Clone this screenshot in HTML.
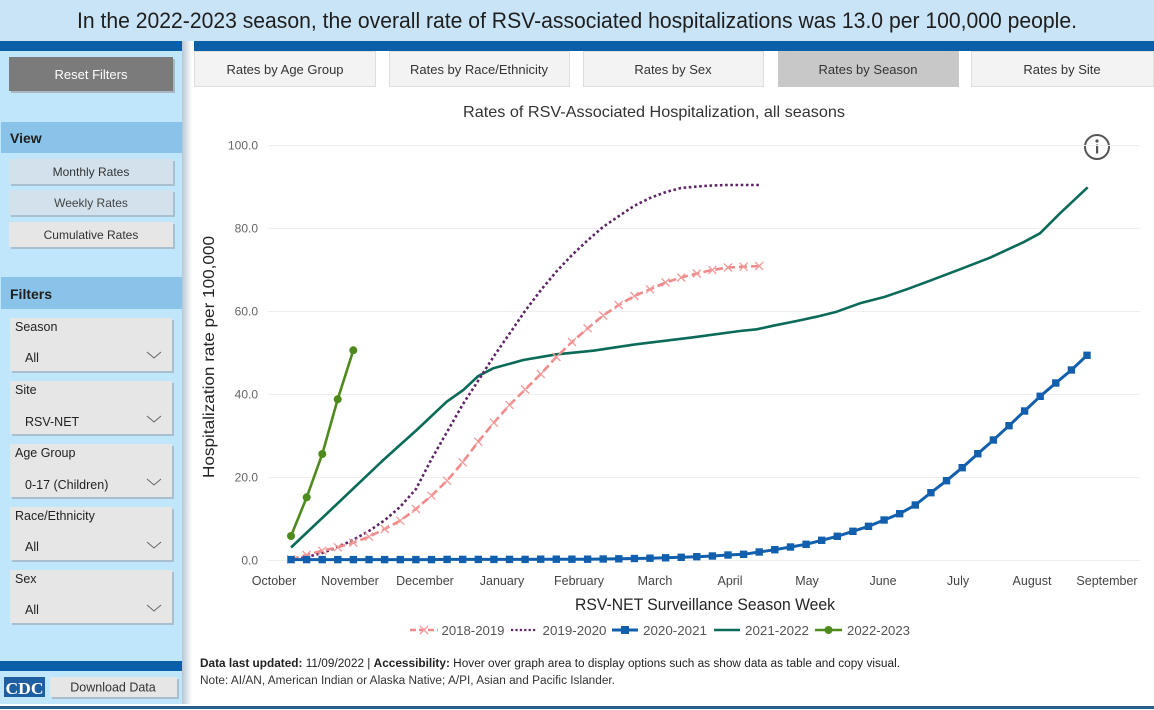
<!DOCTYPE html>
<html><head><meta charset="utf-8"><style>
html,body{margin:0;padding:0;background:#fff;}
svg{display:block;font-family:"Liberation Sans",sans-serif;}
</style></head><body>
<svg width="1154" height="710" viewBox="0 0 1154 710" xmlns="http://www.w3.org/2000/svg">
<defs>
<linearGradient id="sh" x1="0" x2="1" y1="0" y2="0"><stop offset="0" stop-color="#b9c6d1"/><stop offset="1" stop-color="#ffffff"/></linearGradient>
</defs>
<rect width="1154" height="710" fill="#fff"/>
<!-- header -->
<rect x="0" y="0" width="1154" height="41" fill="#c9e4f6"/>
<text x="577" y="28" font-size="22" fill="#1e1e1e" text-anchor="middle" textLength="1000" lengthAdjust="spacingAndGlyphs">In the 2022-2023 season, the overall rate of RSV-associated hospitalizations was 13.0 per 100,000 people.</text>
<!-- left panel -->
<rect x="0" y="41" width="182" height="663" fill="#c0e6fb"/>
<rect x="182" y="41" width="10" height="663" fill="url(#sh)"/>
<rect x="0" y="41" width="182" height="10" fill="#0b5ea8"/>
<rect x="194" y="41" width="960" height="10" fill="#0b5ea8"/>
<!-- reset -->
<rect x="11" y="59" width="164" height="34" fill="#a9b6c0"/>
<rect x="9" y="57" width="164" height="34" fill="#7b7b7b"/>
<text x="91" y="79" font-size="13" fill="#fff" text-anchor="middle">Reset Filters</text>
<!-- view -->
<rect x="1" y="122" width="181" height="31" fill="#89c3e9"/>
<text x="10" y="143" font-size="14" font-weight="bold" fill="#1e1e1e">View</text>
<rect x="11" y="161" width="164" height="25" fill="#a9bfcf"/>
<rect x="9" y="159" width="164" height="25" fill="#d2e1eb"/>
<text x="91" y="176" font-size="12" fill="#333" text-anchor="middle">Monthly Rates</text>
<rect x="11" y="192" width="164" height="25" fill="#a9bfcf"/>
<rect x="9" y="190" width="164" height="25" fill="#d2e1eb"/>
<text x="91" y="207" font-size="12" fill="#444" text-anchor="middle">Weekly Rates</text>
<rect x="11" y="224" width="164" height="25" fill="#a9bfcf"/>
<rect x="9" y="222" width="164" height="25" fill="#e6e6e6"/>
<text x="91" y="239" font-size="12" fill="#333" text-anchor="middle">Cumulative Rates</text>
<!-- filters -->
<rect x="1" y="277" width="181" height="32" fill="#89c3e9"/>
<text x="10" y="299" font-size="14" font-weight="bold" fill="#1e1e1e">Filters</text>
<g font-size="12.5" fill="#222">
<rect x="12" y="320" width="162" height="53" fill="#a9bfcf"/>
<rect x="10" y="318" width="162" height="53" fill="#e6e6e6"/>
<text x="15" y="331">Season</text><text x="25" y="362">All</text>
<polyline points="147,352 154,358 161,352" fill="none" stroke="#666" stroke-width="1"/>
<rect x="12" y="383" width="162" height="53" fill="#a9bfcf"/>
<rect x="10" y="381" width="162" height="53" fill="#e6e6e6"/>
<text x="15" y="394">Site</text><text x="25" y="426">RSV-NET</text>
<polyline points="147,416 154,422 161,416" fill="none" stroke="#666" stroke-width="1"/>
<rect x="12" y="446" width="162" height="53" fill="#a9bfcf"/>
<rect x="10" y="444" width="162" height="53" fill="#e6e6e6"/>
<text x="15" y="457">Age Group</text><text x="25" y="489">0-17 (Children)</text>
<polyline points="147,479 154,485 161,479" fill="none" stroke="#666" stroke-width="1"/>
<rect x="12" y="509" width="162" height="53" fill="#a9bfcf"/>
<rect x="10" y="507" width="162" height="53" fill="#e6e6e6"/>
<text x="15" y="520">Race/Ethnicity</text><text x="25" y="551">All</text>
<polyline points="147,542 154,548 161,542" fill="none" stroke="#666" stroke-width="1"/>
<rect x="12" y="572" width="162" height="53" fill="#a9bfcf"/>
<rect x="10" y="570" width="162" height="53" fill="#e6e6e6"/>
<text x="15" y="583">Sex</text><text x="25" y="614">All</text>
<polyline points="147,605 154,611 161,605" fill="none" stroke="#666" stroke-width="1"/>
</g>
<rect x="0" y="661" width="182" height="10" fill="#0b5ea8"/>
<rect x="4" y="677" width="41" height="20" fill="#1d5fa0"/>
<text x="24.5" y="694" font-size="17" font-weight="bold" font-family="Liberation Serif,serif" fill="#fff" text-anchor="middle" textLength="38" lengthAdjust="spacingAndGlyphs">CDC</text>
<rect x="52" y="679" width="127" height="20" fill="#a9bfcf"/>
<rect x="50" y="677" width="127" height="20" fill="#e6e6e6"/>
<text x="113" y="691.5" font-size="12.5" fill="#333" text-anchor="middle">Download Data</text>
<rect x="0" y="706" width="1154" height="3" fill="#2d5f8e"/>
<!-- tabs -->
<g font-size="13" fill="#333" text-anchor="middle">
<rect x="194.5" y="51.5" width="181" height="35" fill="#f3f3f3" stroke="#dedede"/>
<text x="285" y="74">Rates by Age Group</text>
<rect x="389.5" y="51.5" width="180" height="35" fill="#f3f3f3" stroke="#dedede"/>
<text x="479" y="74">Rates by Race/Ethnicity</text>
<rect x="583.5" y="51.5" width="180" height="35" fill="#f3f3f3" stroke="#dedede"/>
<text x="673" y="74">Rates by Sex</text>
<rect x="778" y="51" width="181" height="36" fill="#c8c8c8"/>
<text x="868" y="74">Rates by Season</text>
<rect x="971.5" y="51.5" width="182" height="35" fill="#f3f3f3" stroke="#dedede"/>
<text x="1062" y="74">Rates by Site</text>
</g>
<!-- chart title -->
<text x="654" y="117" font-size="16" fill="#333" text-anchor="middle" textLength="382" lengthAdjust="spacingAndGlyphs">Rates of RSV-Associated Hospitalization, all seasons</text>
<!-- info icon -->
<circle cx="1097" cy="147" r="12" fill="none" stroke="#555" stroke-width="2"/>
<circle cx="1097" cy="141" r="1.6" fill="#555"/>
<rect x="1096" y="144.5" width="2.2" height="9" fill="#555"/>
<!-- grid -->
<g stroke="#efefef" stroke-width="1">
<line x1="268" x2="1140" y1="145.5" y2="145.5"/>
<line x1="268" x2="1140" y1="228.5" y2="228.5"/>
<line x1="268" x2="1140" y1="311.5" y2="311.5"/>
<line x1="268" x2="1140" y1="394.5" y2="394.5"/>
<line x1="268" x2="1140" y1="477.5" y2="477.5"/>
<line x1="268" x2="1140" y1="560.5" y2="560.5"/>
</g>
<g font-size="12" fill="#666" text-anchor="end">
<text x="258" y="149.5">100.0</text>
<text x="258" y="232.5">80.0</text>
<text x="258" y="315.5">60.0</text>
<text x="258" y="398.5">40.0</text>
<text x="258" y="481.5">20.0</text>
<text x="258" y="564.5">0.0</text>
</g>
<text transform="translate(214,357) rotate(-90)" font-size="16" fill="#252423" text-anchor="middle" textLength="242" lengthAdjust="spacingAndGlyphs">Hospitalization rate per 100,000</text>
<g font-size="12.5" fill="#444" text-anchor="middle">
<text x="274" y="585">October</text>
<text x="350" y="585">November</text>
<text x="425" y="585">December</text>
<text x="502" y="585">January</text>
<text x="579" y="585">February</text>
<text x="655" y="585">March</text>
<text x="730" y="585">April</text>
<text x="807" y="585">May</text>
<text x="883" y="585">June</text>
<text x="958" y="585">July</text>
<text x="1032" y="585">August</text>
<text x="1107" y="585">September</text>
</g>
<text x="705" y="610" font-size="16.5" fill="#252423" text-anchor="middle" textLength="260" lengthAdjust="spacingAndGlyphs">RSV-NET Surveillance Season Week</text>
<!-- series -->
<!-- 2021-2022 teal -->
<polyline fill="none" stroke="#0b6b58" stroke-width="2.6" stroke-linejoin="round" points="291,547.5 337,504 383.3,460 416.7,430 446.7,401.7 463.3,390 478.3,376 493.3,368.3 523.3,360 556.7,354.3 593.3,350.7 633.3,344.7 693.3,337.3 740,331 756.7,329.3 773.3,325.7 796.7,321 816.7,316.7 836.7,311.7 860,303.3 883.3,297.3 906.7,289.3 930,280.7 960,269.3 990,257.7 1023.3,242.3 1040,233.3 1060,213.3 1087.7,187.3"/>
<!-- 2019-2020 purple dotted -->
<polyline fill="none" stroke="#5e2466" stroke-width="2.6" stroke-dasharray="2.6 2.6" points="291,560 307,557 322,553 338,547 353,540 369,531 385,520 400,507 416,489 431,460 447,432 463,404 478,381 494,356 510,333 525,311 541,290 556,272 572,255 588,240 603,227 619,216 634,206 650,198 666,192 681,188 697,186.5 712,185.5 728,185 744,185 759,185"/>
<!-- 2018-2019 pink dashed -->
<polyline id="pk" fill="none" stroke="#f08a8a" stroke-width="2.6" stroke-dasharray="8 4" points="291,559.3 306.6,555 322.2,550.7 337.8,547.3 353.4,542.7 369,536.7 384.7,529 400.3,520.7 415.9,509 431.5,495.7 447.1,480.7 462.7,462.3 478.3,441.7 493.9,422.7 509.5,405 525.2,389.5 540.8,374 556.4,357 572,342 587.6,328.3 603.2,315.5 618.8,305 634.4,296 650,289.3 665.6,282.5 681.2,277.5 696.8,273.5 712.4,270 728,267.5 743.6,266.7 759.2,266"/>
<g stroke="#f29a9a" stroke-width="1.3" fill="none">
<path d="M287,555.3l8,8m0,-8l-8,8 M302.6,551l8,8m0,-8l-8,8 M318.2,546.7l8,8m0,-8l-8,8 M333.8,543.3l8,8m0,-8l-8,8 M349.4,538.7l8,8m0,-8l-8,8 M365,532.7l8,8m0,-8l-8,8 M380.7,525l8,8m0,-8l-8,8 M396.3,516.7l8,8m0,-8l-8,8 M411.9,505l8,8m0,-8l-8,8 M427.5,491.7l8,8m0,-8l-8,8 M443.1,476.7l8,8m0,-8l-8,8 M458.7,458.3l8,8m0,-8l-8,8 M474.3,437.7l8,8m0,-8l-8,8 M489.9,418.7l8,8m0,-8l-8,8 M505.5,401l8,8m0,-8l-8,8 M521.2,385.5l8,8m0,-8l-8,8 M536.8,370l8,8m0,-8l-8,8 M552.4,353l8,8m0,-8l-8,8 M568,338l8,8m0,-8l-8,8 M583.6,324.3l8,8m0,-8l-8,8 M599.2,311.5l8,8m0,-8l-8,8 M614.8,301l8,8m0,-8l-8,8 M630.4,292l8,8m0,-8l-8,8 M646,285.3l8,8m0,-8l-8,8 M661.6,278.5l8,8m0,-8l-8,8 M677.2,273.5l8,8m0,-8l-8,8 M692.8,269.5l8,8m0,-8l-8,8 M708.4,266l8,8m0,-8l-8,8 M724,263.5l8,8m0,-8l-8,8 M739.6,262.7l8,8m0,-8l-8,8 M755.2,262l8,8m0,-8l-8,8"/>
</g>
<!-- 2020-2021 blue -->
<polyline fill="none" stroke="#1260ad" stroke-width="3" stroke-linejoin="round" points="291,559.6 306.6,559.6 322.2,559.6 337.8,559.6 353.4,559.6 369,559.6 384.6,559.6 400.3,559.6 415.9,559.6 431.5,559.6 447.1,559.4 462.7,559.4 478.3,559.4 493.9,559.4 509.5,559.4 525.1,559.4 540.7,559.2 556.3,559.2 571.9,559.2 587.6,559.2 603.2,559 618.8,558.8 634.4,558.5 650,558.2 665.6,557.8 681.2,557.3 696.8,556.7 712.4,556 728,555 743.6,554.3 759.2,552 774.8,549.7 790.5,547 806.1,544.3 821.7,540.3 837.3,536.3 852.9,531.3 868.5,526.3 884.1,520 899.7,513.7 915.3,505 930.9,492.7 946.5,480.7 962.2,467.7 977.8,453.7 993.4,440 1009,425.7 1024.6,411 1040.2,396.3 1055.8,383 1071.4,370 1087,355.3"/>
<g fill="#1260ad">
<rect x="287.3" y="555.9" width="7.4" height="7.4"/><rect x="302.9" y="555.9" width="7.4" height="7.4"/><rect x="318.5" y="555.9" width="7.4" height="7.4"/><rect x="334.1" y="555.9" width="7.4" height="7.4"/><rect x="349.7" y="555.9" width="7.4" height="7.4"/><rect x="365.3" y="555.9" width="7.4" height="7.4"/><rect x="380.9" y="555.9" width="7.4" height="7.4"/><rect x="396.6" y="555.9" width="7.4" height="7.4"/><rect x="412.2" y="555.9" width="7.4" height="7.4"/><rect x="427.8" y="555.9" width="7.4" height="7.4"/><rect x="443.4" y="555.7" width="7.4" height="7.4"/><rect x="459" y="555.7" width="7.4" height="7.4"/><rect x="474.6" y="555.7" width="7.4" height="7.4"/><rect x="490.2" y="555.7" width="7.4" height="7.4"/><rect x="505.8" y="555.7" width="7.4" height="7.4"/><rect x="521.4" y="555.7" width="7.4" height="7.4"/><rect x="537" y="555.5" width="7.4" height="7.4"/><rect x="552.6" y="555.5" width="7.4" height="7.4"/><rect x="568.2" y="555.5" width="7.4" height="7.4"/><rect x="583.9" y="555.5" width="7.4" height="7.4"/><rect x="599.5" y="555.3" width="7.4" height="7.4"/><rect x="615.1" y="555.1" width="7.4" height="7.4"/><rect x="630.7" y="554.8" width="7.4" height="7.4"/><rect x="646.3" y="554.5" width="7.4" height="7.4"/><rect x="661.9" y="554.1" width="7.4" height="7.4"/><rect x="677.5" y="553.6" width="7.4" height="7.4"/><rect x="693.1" y="553" width="7.4" height="7.4"/><rect x="708.7" y="552.3" width="7.4" height="7.4"/><rect x="724.3" y="551.3" width="7.4" height="7.4"/><rect x="739.9" y="550.6" width="7.4" height="7.4"/><rect x="755.5" y="548.3" width="7.4" height="7.4"/><rect x="771.1" y="546" width="7.4" height="7.4"/><rect x="786.8" y="543.3" width="7.4" height="7.4"/><rect x="802.4" y="540.6" width="7.4" height="7.4"/><rect x="818" y="536.6" width="7.4" height="7.4"/><rect x="833.6" y="532.6" width="7.4" height="7.4"/><rect x="849.2" y="527.6" width="7.4" height="7.4"/><rect x="864.8" y="522.6" width="7.4" height="7.4"/><rect x="880.4" y="516.3" width="7.4" height="7.4"/><rect x="896" y="510" width="7.4" height="7.4"/><rect x="911.6" y="501.3" width="7.4" height="7.4"/><rect x="927.2" y="489" width="7.4" height="7.4"/><rect x="942.8" y="477" width="7.4" height="7.4"/><rect x="958.5" y="464" width="7.4" height="7.4"/><rect x="974.1" y="450" width="7.4" height="7.4"/><rect x="989.7" y="436.3" width="7.4" height="7.4"/><rect x="1005.3" y="422" width="7.4" height="7.4"/><rect x="1020.9" y="407.3" width="7.4" height="7.4"/><rect x="1036.5" y="392.6" width="7.4" height="7.4"/><rect x="1052.1" y="379.3" width="7.4" height="7.4"/><rect x="1067.7" y="366.3" width="7.4" height="7.4"/><rect x="1083.3" y="351.6" width="7.4" height="7.4"/>
</g>
<!-- 2022-2023 green -->
<polyline fill="none" stroke="#4e8a1c" stroke-width="2.6" points="291,536 306.7,497.3 322.3,454 337.7,399.3 353.3,350.3"/>
<g fill="#4e8a1c">
<circle cx="291" cy="536" r="4"/><circle cx="306.7" cy="497.3" r="4"/><circle cx="322.3" cy="454" r="4"/><circle cx="337.7" cy="399.3" r="4"/><circle cx="353.3" cy="350.3" r="4"/>
</g>
<!-- legend -->
<g font-size="13" fill="#555">
<line x1="410" x2="438" y1="630" y2="630" stroke="#f08a8a" stroke-width="2.4" stroke-dasharray="6 3"/>
<path d="M420,626l8,8m0,-8l-8,8" stroke="#f29a9a" stroke-width="1.4"/>
<text x="441.5" y="635" textLength="63" lengthAdjust="spacingAndGlyphs">2018-2019</text>
<line x1="511" x2="537" y1="630" y2="630" stroke="#5e2466" stroke-width="2.2" stroke-dasharray="2.2 2.2"/>
<text x="542.5" y="635" textLength="64" lengthAdjust="spacingAndGlyphs">2019-2020</text>
<line x1="612" x2="638" y1="630" y2="630" stroke="#1260ad" stroke-width="3"/>
<rect x="621" y="626" width="8" height="8" fill="#1260ad"/>
<text x="643" y="635" textLength="64" lengthAdjust="spacingAndGlyphs">2020-2021</text>
<line x1="714" x2="740" y1="630" y2="630" stroke="#0b6b58" stroke-width="2.6"/>
<text x="745" y="635" textLength="64" lengthAdjust="spacingAndGlyphs">2021-2022</text>
<line x1="815" x2="842" y1="630" y2="630" stroke="#4e8a1c" stroke-width="2.6"/>
<circle cx="828.5" cy="630" r="4" fill="#4e8a1c"/>
<text x="847" y="635" textLength="63" lengthAdjust="spacingAndGlyphs">2022-2023</text>
</g>
<!-- footnote -->
<text x="200" y="667" font-size="11.5" fill="#222" textLength="700" lengthAdjust="spacingAndGlyphs"><tspan font-weight="bold">Data last updated:</tspan> 11/09/2022 | <tspan font-weight="bold">Accessibility:</tspan> Hover over graph area to display options such as show data as table and copy visual.</text>
<text x="200" y="684" font-size="11.5" fill="#333" textLength="415" lengthAdjust="spacingAndGlyphs">Note: AI/AN, American Indian or Alaska Native; A/PI, Asian and Pacific Islander.</text>
</svg>
</body></html>
